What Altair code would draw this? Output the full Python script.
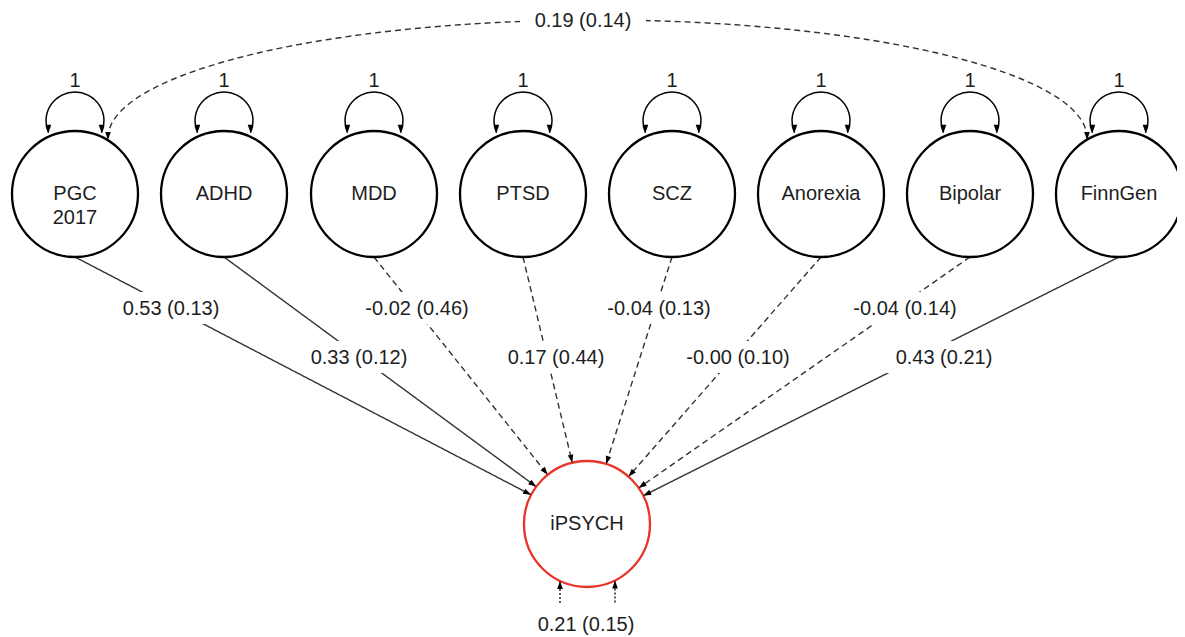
import altair as alt
import pandas as pd
import numpy as np

# ---------------- data ----------------
node_labels = ["PGC\n2017", "ADHD", "MDD", "PTSD", "SCZ", "Anorexia", "Bipolar", "FinnGen"]
node_x = [75, 224, 374, 523, 672, 821, 970, 1119]
node_y = [194, 194, 194, 194, 194, 194, 194, 194]

target_label = ["iPSYCH"]
target_x = [587]
target_y = [524]

path_labels = ["0.53 (0.13)", "0.33 (0.12)", "-0.02 (0.46)", "0.17 (0.44)",
               "-0.04 (0.13)", "-0.00 (0.10)", "-0.04 (0.14)", "0.43 (0.21)"]
path_significant = [True, True, False, False, False, False, False, True]
path_label_x = [171, 359, 417, 556, 659, 738, 905, 944]
path_label_y = [309, 358, 309, 358, 309, 358, 309, 358]

variance_labels = ["1", "1", "1", "1", "1", "1", "1", "1"]

cov_label = ["0.19 (0.14)"]
cov_label_x = [583]
cov_label_y = [21]

resid_label = ["0.21 (0.15)"]
resid_label_x = [586]
resid_label_y = [625]
resid_offsets = [-27, 28]

# ---------------- layout constants ----------------
R = 63          # node radius (px in data units)
RT = 63         # target radius
LOOP_R = 29
LOOP_DY = 73
FONT = "Liberation Sans"
FS = 20
INK = "#1e1e1e"
ARROW = "M0,-1L0.7,1L-0.7,1Z"
ARROW_SIZE = 64
TIP = 4.0

XS = alt.Scale(domain=[8, 1177])
YS = alt.Scale(domain=[8, 637], reverse=True)


def X(f="x"):
    return alt.X(f + ":Q", scale=XS, axis=None)


def Y(f="y"):
    return alt.Y(f + ":Q", scale=YS, axis=None)


# ---------------- derived tables ----------------
tx, ty = target_x[0], target_y[0]
edges = []
arrows = []
for i, (nx, ny) in enumerate(zip(node_x, node_y)):
    sx, sy = nx, ny + R
    dx, dy = tx - sx, ty - sy
    L = np.hypot(dx, dy)
    ux, uy = dx / L, dy / L
    ex, ey = tx - RT * ux, ty - RT * uy
    edges.append(dict(x=sx, y=sy, x2=ex, y2=ey,
                      sig="sig" if path_significant[i] else "ns"))
    ang = (np.degrees(np.arctan2(ux, -uy)) + 360) % 360
    arrows.append(dict(x=ex - TIP * ux, y=ey - TIP * uy, angle=ang))

# self loops
loops = pd.DataFrame({"x": node_x, "y": [v - LOOP_DY for v in node_y],
                      "label": variance_labels,
                      "ly": [v - LOOP_DY - LOOP_R - 11 for v in node_y]})
a0 = np.radians(114)
for nx, ny in zip(node_x, node_y):
    cy = ny - LOOP_DY
    for s in (-1, 1):
        px = nx + s * LOOP_R * np.sin(a0)
        py = cy - LOOP_R * np.cos(a0)
        arrows.append(dict(x=px, y=py - TIP, angle=180.0))

# covariance arc (PGC <-> FinnGen), half ellipse between node tops
c_left = node_x[0] + 33
c_right = node_x[-1] - 32
c_base = node_y[0] - 56
c_cx = (c_left + c_right) / 2
c_rx = (c_right - c_left) / 2
c_ry = c_base - 20
t = np.linspace(np.pi, 0, 160)
cov = pd.DataFrame({"x": c_cx + c_rx * np.cos(t), "y": c_base - c_ry * np.sin(t),
                    "o": np.arange(len(t))})
arrows.append(dict(x=c_left, y=c_base + 2 - TIP, angle=180.0))
arrows.append(dict(x=c_right, y=c_base + 2 - TIP, angle=180.0))

# residual arrows into target
resid = []
for off in resid_offsets:
    bx = tx + off
    by = ty + np.sqrt(RT ** 2 - off ** 2)
    resid.append(dict(x=bx, y=by + 22, x2=bx, y2=by))
    arrows.append(dict(x=bx, y=by + TIP, angle=0.0))

edges = pd.DataFrame(edges)
arrows = pd.DataFrame(arrows)
resid = pd.DataFrame(resid)

labels = pd.DataFrame({"x": path_label_x + cov_label_x + resid_label_x,
                       "y": path_label_y + cov_label_y + resid_label_y,
                       "t": path_labels + cov_label + resid_label,
                       "hw": [58] * 8 + [63, 0]})
labels["x1"] = labels["x"] - labels["hw"]
labels["x2"] = labels["x"] + labels["hw"]
labels["y1"] = labels["y"] - 17
labels["y2"] = labels["y"] + 15
boxes = labels[labels["hw"] > 0]
boxes = boxes.assign(y1=np.where(boxes["y"] < 100, boxes["y"] - 12, boxes["y1"]),
                     y2=np.where(boxes["y"] < 100, boxes["y"] + 12, boxes["y2"]))

nodes = pd.DataFrame({"x": node_x, "y": node_y, "t": node_labels})
tgt = pd.DataFrame({"x": target_x, "y": target_y, "t": target_label})

# ---------------- layers ----------------
cov_line = alt.Chart(cov).mark_line(color="#333333", strokeWidth=1.4, strokeDash=[6, 4]).encode(
    x=X(), y=Y(), order="o:Q")

edge_rules = alt.Chart(edges).mark_rule(color="#333333", strokeWidth=1.4).encode(
    x=X(), y=Y(), x2="x2:Q", y2="y2:Q",
    strokeDash=alt.StrokeDash("sig:N", scale=alt.Scale(domain=["sig", "ns"], range=[[1, 0], [6, 4]]),
                              legend=None))

resid_rules = alt.Chart(resid).mark_rule(color="#333333", strokeWidth=1.6, strokeDash=[2, 2]).encode(
    x=X(), y=Y(), x2="x2:Q", y2="y2:Q")

label_boxes = alt.Chart(boxes).mark_rect(color="white").encode(
    x=X("x1"), x2="x2:Q", y=Y("y1"), y2="y2:Q")

label_text = alt.Chart(labels).mark_text(font=FONT, fontSize=FS, color=INK, align="center",
                                         baseline="middle").encode(x=X(), y=Y(), text="t:N")

node_circles = alt.Chart(nodes).mark_point(shape="circle", size=126 * 126, filled=True, fill="white",
                                           stroke="black", strokeWidth=2.3, opacity=1).encode(x=X(), y=Y())

tgt_circle = alt.Chart(tgt).mark_point(shape="circle", size=126 * 126, filled=True, fill="white",
                                       stroke="#e8352b", strokeWidth=2.3, opacity=1).encode(x=X(), y=Y())

loop_arcs = alt.Chart(loops).mark_arc(theta=2 * np.pi - a0, theta2=2 * np.pi + a0, radius=LOOP_R,
                                      radius2=LOOP_R, fill="white", fillOpacity=0, stroke="black",
                                      strokeWidth=1.5).encode(x=X(), y=Y())

loop_text = alt.Chart(loops).mark_text(font=FONT, fontSize=FS, color=INK, align="center",
                                       baseline="middle").encode(x=X(), y=Y("ly"), text="label:N")

arrow_heads = alt.Chart(arrows).mark_point(shape=ARROW, size=ARROW_SIZE, filled=True, color="black",
                                           opacity=1).encode(
    x=X(), y=Y(), angle=alt.Angle("angle:Q", scale=alt.Scale(domain=[0, 360], range=[0, 360])))

node_text = alt.Chart(nodes).mark_text(font=FONT, fontSize=FS, color=INK, align="center",
                                       baseline="middle", lineBreak="\n", lineHeight=24).encode(
    x=X(), y=Y(), text="t:N")

tgt_text = alt.Chart(tgt).mark_text(font=FONT, fontSize=FS, color=INK, align="center",
                                    baseline="middle").encode(x=X(), y=Y(), text="t:N")

chart = alt.layer(cov_line, edge_rules, resid_rules, label_boxes, label_text, node_circles, tgt_circle,
                  loop_arcs, loop_text, arrow_heads, node_text, tgt_text).properties(
    width=1169, height=629, padding=0, autosize=alt.AutoSizeParams(type="none"),
    background="white").configure_view(stroke=None)

chart.save("out.html", embed_options={"renderer": "svg", "actions": False})
